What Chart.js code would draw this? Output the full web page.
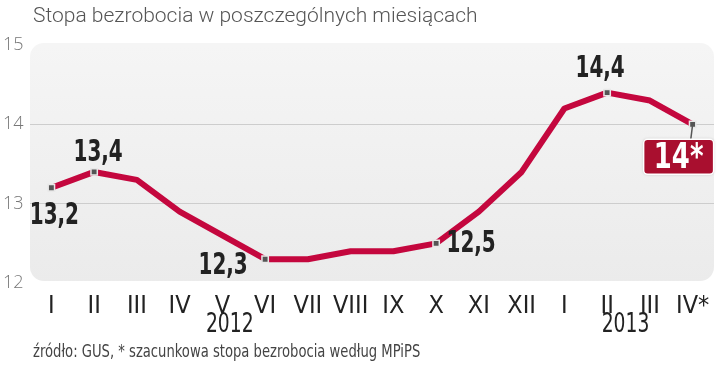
<!DOCTYPE html>
<html>
<head>
<meta charset="utf-8">
<script src="https://cdn.jsdelivr.net/npm/chart.js@4/dist/chart.umd.min.js"></script>
<style>
  html, body { margin: 0; padding: 0; background: #fff; }
  #wrap { position: relative; width: 720px; height: 366px; }
</style>
</head>
<body>
<div id="wrap"><canvas id="chart" width="720" height="366"></canvas></div>
<script>
const months = ["I", "II", "III", "IV", "V", "VI", "VII", "VIII", "IX", "X", "XI", "XII", "I", "II", "III", "IV*"];
const rate = [13.2, 13.4, 13.3, 12.9, 12.6, 12.3, 12.3, 12.4, 12.4, 12.5, 12.9, 13.4, 14.2, 14.4, 14.3, 14.0];
const yTicks = [12, 13, 14, 15];
const years = ["2012", "2013"];
const title = "Stopa bezrobocia w poszczególnych miesiącach";
const source = "źródło: GUS, * szacunkowa stopa bezrobocia według MPiPS";

const NARROW = "'Liberation Sans Narrow', 'DejaVu Sans Condensed', sans-serif";
const RED = "#c4073e";

// which points get a marker and a value label (offsets in px)
const marked = { 0: [3, 28], 1: [4, -19], 5: [-42, 7], 9: [35, 1], 13: [-7, -23] };
const lastIdx = rate.length - 1;

function fmt(v) {
  return String(v).replace(".", ",");
}

function roundRect(ctx, x, y, w, h, r) {
  ctx.beginPath();
  ctx.moveTo(x + r, y);
  ctx.arcTo(x + w, y, x + w, y + h, r);
  ctx.arcTo(x + w, y + h, x, y + h, r);
  ctx.arcTo(x, y + h, x, y, r);
  ctx.arcTo(x, y, x + w, y, r);
  ctx.closePath();
}

// squeezed text, the original uses a narrow face
function narrowText(ctx, text, x, y, font, sx) {
  ctx.save();
  ctx.translate(x, y);
  ctx.scale(sx, 1);
  ctx.font = font;
  ctx.fillText(text, 0, 0);
  ctx.restore();
}

const decor = {
  id: "decor",
  beforeDraw(chart) {
    const { ctx, chartArea: a } = chart;
    ctx.save();
    const g = ctx.createLinearGradient(0, a.top, 0, a.bottom);
    g.addColorStop(0, "#f5f5f5");
    g.addColorStop(1, "#ebebeb");
    ctx.fillStyle = g;
    roundRect(ctx, a.left, a.top - 2, a.right - a.left, a.bottom - a.top, 14);
    ctx.fill();
    ctx.restore();
  },
  afterDatasetsDraw(chart) {
    const { ctx } = chart;
    const x = chart.scales.x;
    const pts = chart.getDatasetMeta(0).data;
    ctx.save();

    // title and source
    ctx.fillStyle = "#555";
    ctx.textBaseline = "middle";
    ctx.textAlign = "left";
    ctx.font = "300 21px Roboto, sans-serif";
    ctx.fillText(title, 33, 17);
    ctx.fillStyle = "#444";
    narrowText(ctx, source, 33, 353, "17px " + NARROW, 0.86);

    // years
    ctx.fillStyle = "#222";
    ctx.textAlign = "center";
    narrowText(ctx, years[0], (x.getPixelForValue(4) + x.getPixelForValue(5)) / 2 - 14, 325, "26px " + NARROW, 0.8);
    narrowText(ctx, years[1], (x.getPixelForValue(13) + x.getPixelForValue(14)) / 2 - 3, 325, "26px " + NARROW, 0.8);

    // value labels
    Object.keys(marked).forEach(function (k) {
      const p = pts[k];
      narrowText(ctx, fmt(rate[k]), p.x + marked[k][0], p.y + marked[k][1], "bold 30px " + NARROW, 0.74);
    });

    // callout for the estimate
    const p = pts[lastIdx];
    ctx.strokeStyle = "#555";
    ctx.lineWidth = 1.5;
    ctx.beginPath();
    ctx.moveTo(p.x, p.y);
    ctx.lineTo(p.x - 2, p.y + 16);
    ctx.stroke();
    ctx.shadowColor = "rgba(0,0,0,0.25)";
    ctx.shadowBlur = 3;
    ctx.fillStyle = "#a90f2f";
    roundRect(ctx, p.x - 49, p.y + 15, 70, 35, 4);
    ctx.fill();
    ctx.shadowColor = "transparent";
    ctx.strokeStyle = "#fff";
    ctx.lineWidth = 1.5;
    ctx.stroke();
    ctx.fillStyle = "#fff";
    narrowText(ctx, fmt(rate[lastIdx]) + "*", p.x - 14, p.y + 34, "bold 36px " + NARROW, 0.8);
    ctx.restore();
  },
};

const pointRadius = rate.map(function (v, i) {
  return marked[i] || i === lastIdx ? 4.5 : 0;
});

new Chart("chart", {
  type: "line",
  data: {
    labels: months,
    datasets: [
      {
        data: rate,
        borderColor: RED,
        borderWidth: 6,
        borderJoinStyle: "round",
        tension: 0,
        pointStyle: "rect",
        pointRadius: pointRadius,
        pointHoverRadius: pointRadius,
        pointBackgroundColor: "#555",
        pointBorderColor: "#e8e8e8",
        pointBorderWidth: 1.5,
      },
    ],
  },
  options: {
    responsive: false,
    animation: false,
    events: [],
    layout: { padding: { left: 3, right: 6, top: 45, bottom: 53 } },
    plugins: { legend: { display: false }, tooltip: { enabled: false } },
    scales: {
      x: {
        offset: true,
        grid: { display: false },
        border: { display: false },
        ticks: {
          color: "#222",
          font: { family: NARROW, size: 25 },
          padding: 0,
          maxRotation: 0,
          autoSkip: false,
        },
        afterFit: function (scale) {
          scale.height = 30;
        },
      },
      y: {
        min: 12,
        max: 15,
        border: { display: false },
        grid: {
          drawTicks: false,
          color: function (c) {
            return c.tick && (c.tick.value === 13 || c.tick.value === 14) ? "#cdcdcd" : "transparent";
          },
        },
        afterBuildTicks: function (scale) {
          scale.ticks = yTicks.map(function (v) {
            return { value: v };
          });
        },
        ticks: {
          color: "#777",
          font: { family: "'Open Sans', sans-serif", size: 18, weight: 300 },
          crossAlign: "far",
          padding: 3,
        },
        afterFit: function (scale) {
          scale.width = 27;
        },
      },
    },
  },
  plugins: [decor],
});
</script>
</body>
</html>
